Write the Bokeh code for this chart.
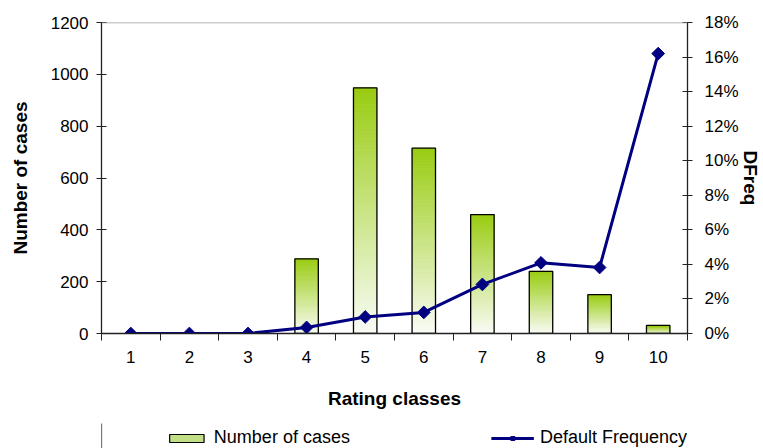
import math
from bokeh.plotting import figure
from bokeh.layouts import column
from bokeh.models import (Range1d, LinearAxis, FixedTicker, NumeralTickFormatter,
                          Legend, LegendItem, Span, ColumnDataSource)
from bokeh.embed import file_html
from bokeh.resources import INLINE

# Rating classes and their data
classes = [1, 2, 3, 4, 5, 6, 7, 8, 9, 10]
class_labels = ["1", "2", "3", "4", "5", "6", "7", "8", "9", "10"]
num_cases = [0, 0, 0, 288, 948, 715, 459, 240, 150, 31]
default_freq = [0.0, 0.0, 0.0, 0.0035, 0.0096, 0.0122, 0.0284, 0.0409, 0.0382, 0.162]

FONT = "Liberation Sans"
BAR_W = 0.4
TOP_RGB = (153, 204, 17)
BOTTOM_RGB = (250, 252, 247)
N_SLICES = 60
NAVY = "#000080"
AXIS_COLOR = "#222222"

W, H_MAIN, H_LEG = 763, 423, 25
BORDER_L, BORDER_R = 101, 74

p = figure(width=W, height=H_MAIN, output_backend="svg", toolbar_location=None,
           x_range=Range1d(0.5, 10.5), y_range=Range1d(0, 1200),
           min_border_left=BORDER_L, min_border_right=BORDER_R, min_border_top=22,
           min_border_bottom=H_MAIN - 333)
p.extra_y_ranges = {"dfreq": Range1d(0, 0.18)}
p.xgrid.visible = False
p.ygrid.visible = False
p.outline_line_color = None

# Bars filled with a vertical gradient (green at the top fading to white)
def mix(t):
    r = [int(round(a + (b - a) * t)) for a, b in zip(TOP_RGB, BOTTOM_RGB)]
    return "#%02x%02x%02x" % tuple(r)

xs, bots, tops, cols = [], [], [], []
for c, v in zip(classes, num_cases):
    if v <= 0:
        continue
    for k in range(N_SLICES):
        xs.append(c)
        bots.append(v * k / N_SLICES)
        tops.append(v * (k + 1) / N_SLICES)
        cols.append(mix(1 - (k + 0.5) / N_SLICES))
p.vbar(x=xs, bottom=bots, top=tops, width=BAR_W, fill_color=cols,
       line_color=cols, line_width=0.8)

bar_src = ColumnDataSource(dict(x=[c for c, v in zip(classes, num_cases) if v > 0],
                                top=[v for v in num_cases if v > 0]))
p.vbar(x="x", top="top", bottom=0, width=BAR_W, source=bar_src,
       fill_color=None, line_color="black", line_width=1.3)

# Top frame line
p.add_layout(Span(location=1200, dimension="width", line_color="#9a9a9a", line_width=1.3))

# Default frequency line with diamond markers
p.line(classes, default_freq, y_range_name="dfreq", line_color=NAVY, line_width=3)
p.scatter(classes, default_freq, y_range_name="dfreq", marker="square", angle=math.pi / 4,
          size=9, fill_color=NAVY, line_color=NAVY, line_width=1)

# Axes
def style_axis(ax, label):
    ax.axis_line_color = AXIS_COLOR
    ax.axis_line_width = 1.3
    ax.major_tick_line_color = AXIS_COLOR
    ax.minor_tick_line_color = AXIS_COLOR
    ax.major_label_text_font = FONT
    ax.major_label_text_font_size = "17px"
    ax.major_label_text_color = "black"
    ax.axis_label = label
    ax.axis_label_text_font = FONT
    ax.axis_label_text_font_size = "19px"
    ax.axis_label_text_font_style = "bold"
    ax.axis_label_text_color = "black"

xa = p.xaxis[0]
style_axis(xa, "Rating classes")
xa.ticker = FixedTicker(ticks=classes, minor_ticks=[c - 0.5 for c in classes] + [10.5])
xa.major_label_overrides = {c: l for c, l in zip(classes, class_labels)}
xa.major_tick_out = 0
xa.major_tick_in = 0
xa.minor_tick_out = 7
xa.minor_tick_in = 0
xa.major_label_standoff = 10
xa.axis_label_standoff = 22

ya = p.yaxis[0]
style_axis(ya, "Number of cases")
ya.ticker = FixedTicker(ticks=[0, 200, 400, 600, 800, 1000, 1200])
ya.major_tick_in = 5
ya.major_tick_out = 5
ya.minor_tick_out = 0
ya.minor_tick_in = 0
ya.major_label_standoff = 8
ya.axis_label_standoff = 17

ra = LinearAxis(y_range_name="dfreq",
                ticker=FixedTicker(ticks=[0, 0.02, 0.04, 0.06, 0.08, 0.10, 0.12, 0.14, 0.16, 0.18]),
                formatter=NumeralTickFormatter(format="0%"))
style_axis(ra, "DFreq")
ra.major_tick_in = 5
ra.major_tick_out = 5
ra.minor_tick_out = 0
ra.minor_tick_in = 0
ra.major_label_standoff = 12
ra.axis_label_standoff = -2
p.add_layout(ra, "right")

# Legend strip under the chart, right-aligned with the plotting area
lg = figure(width=W, height=H_LEG, output_backend="svg", toolbar_location=None,
            x_range=Range1d(0, 1), y_range=Range1d(0, 1),
            x_axis_location=None, y_axis_location=None,
            min_border_left=BORDER_L, min_border_right=BORDER_R,
            min_border_top=0, min_border_bottom=0)
lg.xgrid.visible = False
lg.ygrid.visible = False
lg.outline_line_color = None

swatch = lg.vbar(x=[-5], top=[1], width=0.1, fill_color="#c2df88",
                 line_color="black", line_width=1.2)
leg_line = lg.line([-5, -4], [0, 0], line_color=NAVY, line_width=3)
leg_mark = lg.scatter([-5], [0], marker="square", angle=math.pi / 4, size=9,
                      fill_color=NAVY, line_color=NAVY)

legend = Legend(items=[LegendItem(label="Number of cases", renderers=[swatch]),
                       LegendItem(label="Default Frequency", renderers=[leg_line, leg_mark])],
                location="bottom_right", orientation="horizontal",
                padding=0, margin=0, spacing=141, glyph_width=43, glyph_height=10,
                label_standoff=6, label_height=18,
                label_text_font=FONT, label_text_font_size="18px",
                label_text_color="black", border_line_color=None,
                background_fill_alpha=0)
lg.add_layout(legend, "center")

layout = column(p, lg, spacing=0)
open("out.html", "w").write(file_html(layout, INLINE))
